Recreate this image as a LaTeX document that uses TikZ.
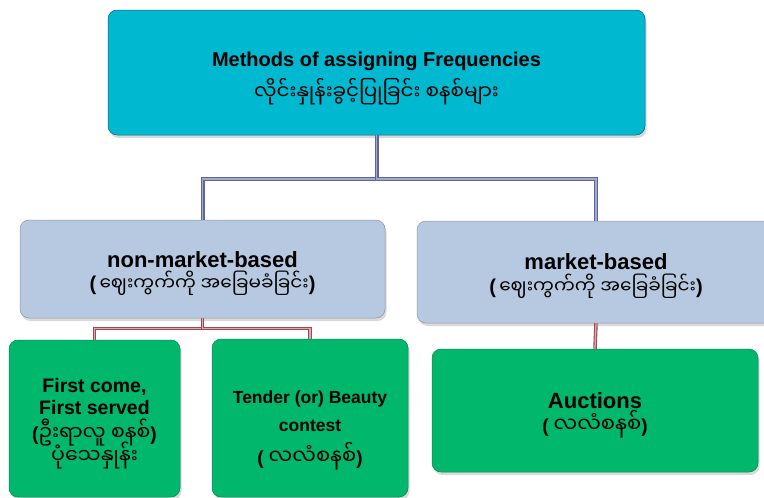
\documentclass[tikz,border=0pt]{standalone}
\usepackage{fontspec}
\setmainfont{Liberation Sans}
\newfontfamily\mya[Script=Myanmar]{Noto Sans Myanmar UI}
\usetikzlibrary{shadows}

\definecolor{rootfill}{HTML}{00B8D0}
\definecolor{kindfill}{HTML}{B7C9E0}
\definecolor{wayfill}{HTML}{00B76C}
\definecolor{bluelink}{HTML}{5E6898}
\definecolor{bluelinklt}{HTML}{A3A9CC}
\definecolor{redlink}{HTML}{9E4A55}
\definecolor{redlinklt}{HTML}{DDA7AE}

\tikzset{
  box/.style={rounded corners=9pt, inner sep=0pt, align=center,
    drop shadow={shadow xshift=1.5pt, shadow yshift=-3pt, opacity=0.3}},
  rootbox/.style={box, fill=rootfill, draw=rootfill!55!black, line width=0.5pt},
  kindbox/.style={box, fill=kindfill, draw=kindfill!75!black, line width=0.5pt},
  waybox/.style={box, fill=wayfill, draw=wayfill!75!black, line width=0.5pt},
  bluewire/.style={draw=bluelink, double=bluelinklt, double distance=1.6pt, line width=1.2pt},
  redwire/.style={draw=redlink, double=redlinklt, double distance=1.3pt, line width=1.1pt}
}
% English words, Burmese words, and a strut that pushes the text down
\newcommand{\en}[2]{{\bfseries\fontsize{#1}{#1}\selectfont #2}}
\newcommand{\my}[2]{{\mya\fontsize{#1}{#1}\selectfont #2}}
\newcommand{\push}[1]{\rule{0pt}{#1}}

\begin{document}
\begin{tikzpicture}[x=1pt, y=-1pt]
			\clip (0,0) rectangle (764,498);
			
			% Top box
			\node[rootbox, minimum width=537, minimum height=125] (root) at (376.5,72.5)
			{\push{26pt}\en{20}{Methods of assigning Frequencies}\\[7pt]
			 \my{20}{လိုင်းနှုန်းခွင့်ပြုခြင်း စနစ်များ}};
			
			% Second row
			\node[kindbox, minimum width=365, minimum height=98] (nonmkt) at (202.5,269)
			{\push{25pt}\en{22}{non-market-based}\\[2pt]
			 \en{20}{(}\,\,\my{18.5}{ဈေးကွက်ကို အခြေမခံခြင်း}\en{20}{)}};
			\node[kindbox, minimum width=358, minimum height=102] (mkt) at (596,272)
			{\push{24pt}\en{22}{market-based}\\[3pt]
			 \en{20}{(}\,\,\my{18.5}{ဈေးကွက်ကို အခြေခံခြင်း}\en{20}{)}};
			
			% Bottom row
			\node[waybox, minimum width=171, minimum height=157] (fcfs) at (94.5,418.5)
			{\push{25pt}\en{19.5}{First come,}\\[4pt]
			 \en{19.5}{First served}\\[3pt]
			 \en{19}{(}\my{20.5}{ဦးရာလူ စနစ်}\en{19}{)}\\[-5pt]
			 \my{20.5}{ပုံသေနှုန်း}};
			\node[waybox, minimum width=196, minimum height=158] (tender) at (310,418)
			{\push{38pt}\en{17.5}{Tender (or) Beauty}\\[12pt]
			 \en{17.5}{contest}\\[10pt]
			 \en{19}{(}\,\,\,\my{21}{လလံစနစ်}\en{19}{)}};
			\node[waybox, minimum width=326, minimum height=123] (auc) at (595,410.5)
			{\push{26pt}\en{22}{Auctions}\\[1pt]
			 \en{19}{(}\,\,\,\my{21}{လလံစနစ်}\en{19}{)}};
			
			% Connectors
			\draw[bluewire] (root.south) -- ++(0,44) -| (nonmkt.north);
			\draw[bluewire] (root.south) -- ++(0,44) -| (mkt.north);
			\draw[redwire] (nonmkt.south) -- ++(0,10) -| (fcfs.north);
			\draw[redwire] (nonmkt.south) -- ++(0,10) -| (tender.north);
			\draw[redwire] (mkt.south) -- (auc.north);
		\end{tikzpicture}
\end{document}
